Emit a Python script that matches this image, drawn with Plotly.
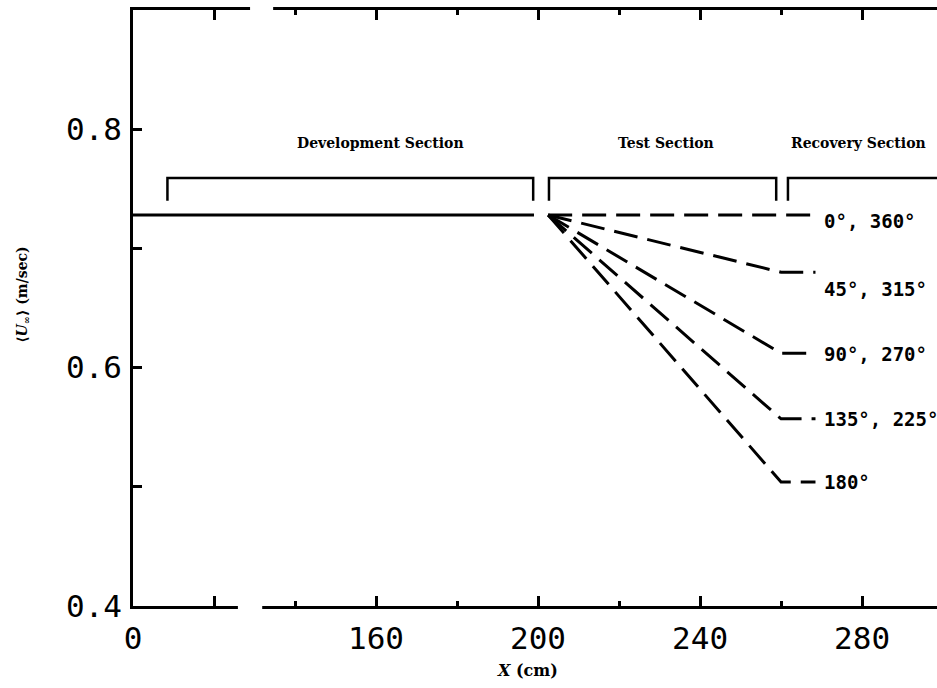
import plotly.graph_objects as go

# ---- data -------------------------------------------------------------
# mean streamwise velocity along the channel (X in cm, U in m/s)
dev_x = [0, 199]
dev_u = [0.728, 0.728]

fan_x = [202.5, 260, 268.5]           # test-section start, end, recovery stub
fan_u_start = 0.728
fan_u_end = [0.728, 0.680, 0.612, 0.557, 0.504]
fan_labels = ["0°, 360°", "45°, 315°", "90°, 270°", "135°, 225°", "180°"]

section_names = ["Development Section", "Test Section", "Recovery Section"]
section_start = [8.5, 202.7, 261.7]
section_end = [198.8, 258.8, 300]
section_label_x = [161.2, 231.6, 279.0]

x_tick_vals = [0, 20, 160, 200, 240, 280]
x_tick_text = ["0", "", "160", "200", "240", "280"]
x_minor_vals = [140, 180, 220, 260]
y_tick_vals = [0.4, 0.6, 0.8]
y_tick_text = ["0.4", "0.6", "0.8"]
y_minor_vals = [0.5, 0.7]

# ---- broken x axis: 0..~30 then jumps to ~130 ---------------------------
BREAK_AT = 100.0
SHIFT = 100.0


def to_axis(x):
    return x if x < BREAK_AT else x - SHIFT


def many(xs):
    return [to_axis(v) for v in xs]


BLACK = "#000000"
fig = go.Figure()

# development section: solid line
fig.add_trace(go.Scatter(x=many(dev_x), y=dev_u, mode="lines",
                         line=dict(color=BLACK, width=3), hoverinfo="skip"))

# test + recovery sections: dashed fan for each azimuth
for u_end in fan_u_end:
    fig.add_trace(go.Scatter(
        x=many(fan_x), y=[fan_u_start, u_end, u_end], mode="lines",
        line=dict(color=BLACK, width=3, dash="24px,10px"), hoverinfo="skip"))

# section brackets
BR_TOP, BR_BOT = 0.759, 0.740
for s, e in zip(section_start, section_end):
    fig.add_trace(go.Scatter(
        x=many([s, s, e, e]), y=[BR_BOT, BR_TOP, BR_TOP, BR_BOT], mode="lines",
        line=dict(color=BLACK, width=2.5), hoverinfo="skip"))

annotations = []
for name, xc in zip(section_names, section_label_x):
    annotations.append(dict(
        x=to_axis(xc), y=0.7884, xref="x", yref="y", text=name, showarrow=False,
        font=dict(family="DejaVu Serif", size=14, color=BLACK, weight="bold"),
        xanchor="center", yanchor="middle"))

label_shift = [-6, -17, -1, 0, 0]
for lab, u_end, dy in zip(fan_labels, fan_u_end, label_shift):
    annotations.append(dict(
        x=to_axis(270.1), y=u_end, xref="x", yref="y", text=lab, showarrow=False,
        font=dict(family="DejaVu Sans Mono", size=19, color=BLACK, weight="bold"),
        xanchor="left", yanchor="middle", yshift=dy))

annotations.append(dict(
    x=-0.137, y=0.5235, xref="paper", yref="paper",
    text="⟨<i>U</i><sub>∞</sub>⟩ (m/sec)", textangle=-90, showarrow=False,
    font=dict(family="DejaVu Serif", size=14, color=BLACK, weight="bold"),
    xanchor="center", yanchor="middle"))
annotations.append(dict(
    x=0.491, y=-0.108, xref="paper", yref="paper",
    text="<i>X</i> (cm)", showarrow=False,
    font=dict(family="DejaVu Serif", size=16, color=BLACK, weight="bold"),
    xanchor="center", yanchor="middle"))

# white masks that open the gap in the broken x axis (bottom and top)
shapes = [
    dict(type="rect", xref="x", yref="paper", x0=25.9, x1=31.9, y0=-0.012, y1=0.012,
         fillcolor="white", line=dict(width=0), layer="above"),
    dict(type="rect", xref="x", yref="paper", x0=28.9, x1=34.6, y0=0.988, y1=1.012,
         fillcolor="white", line=dict(width=0), layer="above"),
]

tick_font = dict(family="DejaVu Sans Mono", size=31, color=BLACK)

fig.update_layout(
    width=937, height=688,
    margin=dict(l=133, r=0, t=10, b=82),
    paper_bgcolor="white", plot_bgcolor="white",
    showlegend=False,
    annotations=annotations,
    shapes=shapes,
    xaxis=dict(
        range=[0, 198.5], showgrid=False, zeroline=False,
        showline=True, linecolor=BLACK, linewidth=2.5, mirror="ticks",
        ticks="inside", ticklen=10, tickwidth=2.5, tickcolor=BLACK,
        tickmode="array", tickvals=many(x_tick_vals), ticktext=x_tick_text,
        tickfont=tick_font, ticklabelstandoff=3,
        minor=dict(tickmode="array", tickvals=many(x_minor_vals), ticks="inside",
                   ticklen=5, tickwidth=2.5, tickcolor=BLACK, showgrid=False),
    ),
    yaxis=dict(
        range=[0.4, 0.9], showgrid=False, zeroline=False,
        showline=True, linecolor=BLACK, linewidth=2.5,
        ticks="inside", ticklen=9, tickwidth=2.5, tickcolor=BLACK,
        tickmode="array", tickvals=y_tick_vals, ticktext=y_tick_text,
        tickfont=tick_font, ticklabelstandoff=2,
        minor=dict(tickmode="array", tickvals=y_minor_vals, ticks="inside",
                   ticklen=9, tickwidth=2.5, tickcolor=BLACK, showgrid=False),
    ),
)

fig.write_html("out.html")
